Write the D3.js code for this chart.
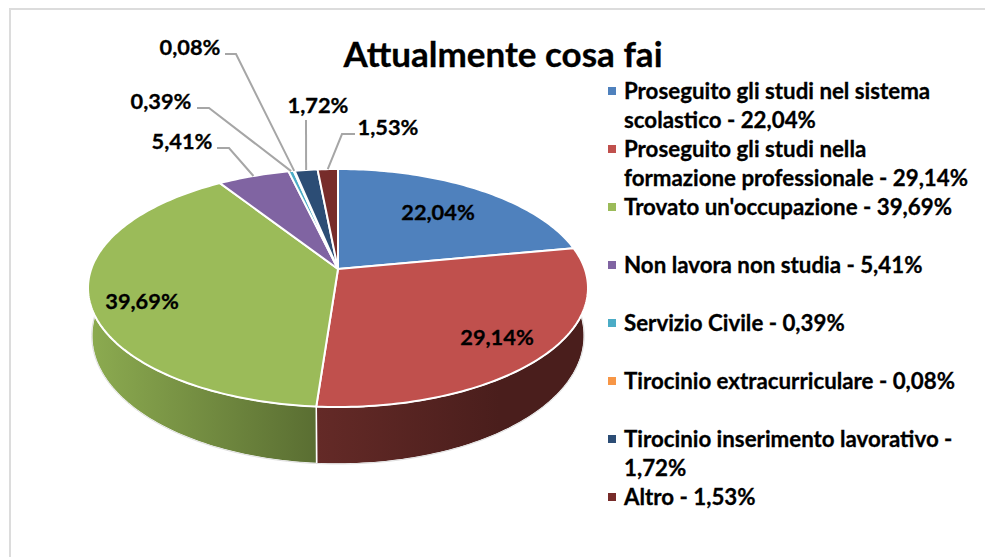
<!DOCTYPE html>
<html>
<head>
<meta charset="utf-8">
<script src="https://cdn.jsdelivr.net/npm/d3@7"></script>
<style>
html, body { margin: 0; padding: 0; background: #fff; overflow: hidden; }
svg { display: block; }
text { font-family: Lato, "Open Sans", sans-serif; font-weight: 700; fill: #000; stroke: #000; stroke-width: 0.3px; }
</style>
</head>
<body>
<div class="chart"></div>
<script>
var svg_width = 985;
var svg_height = 557;

var categories = ["Proseguito gli studi nel sistema scolastico", "Proseguito gli studi nella formazione professionale", "Trovato un'occupazione", "Non lavora non studia", "Servizio Civile", "Tirocinio extracurriculare", "Tirocinio inserimento lavorativo", "Altro"];
var values = [22.04, 29.14, 39.69, 5.41, 0.39, 0.08, 1.72, 1.53];
var value_labels = ["22,04%", "29,14%", "39,69%", "5,41%", "0,39%", "0,08%", "1,72%", "1,53%"];
var colors = ["#4f81bd", "#c0504d", "#9bbb59", "#8064a2", "#4bacc6", "#f79646", "#2c4d75", "#772c2a"];

// legend lines as they wrap in the picture
var legend_lines = [
	["Proseguito gli studi nel sistema", "scolastico - 22,04%"],
	["Proseguito gli studi nella", "formazione professionale - 29,14%"],
	["Trovato un'occupazione - 39,69%"],
	["Non lavora non studia - 5,41%"],
	["Servizio Civile - 0,39%"],
	["Tirocinio extracurriculare - 0,08%"],
	["Tirocinio inserimento lavorativo -", "1,72%"],
	["Altro - 1,53%"]
];
var legend_y = [91, 149, 207, 265, 323, 381, 439, 497];

// Label placement, same order as the values
var label_pos = [[438, 212], [497, 337], [142, 301], [182, 141], [161, 101], [190, 47], [318, 105], [388, 127]];
// leader elbow: [start x, elbow x, y], null for labels inside the pie
var leaders = [null, null, null, [217, 229, 148], [197, 209, 108], [225, 236, 54], [306, 306, 120], [355, 342, 134]];

// pie geometry: a tilted disc, the hub sits above the middle of the ellipse
var cx = 338, hub_y = 269;
var near = 138, far = 100, half_width = 250, wall_shrink = 0.985;
var side_depth = 46, front_extra = 11;
var k = (near - far) / (near + far);
var a = near * (1 - k);
var b = half_width * Math.sqrt(1 - k * k);

function project(t) {
	var u = Math.sin(t), v = -Math.cos(t), w = 1 - k * v;
	return [cx + b * u / w, hub_y + a * v / w];
}
// lower rim: the wall looks taller toward the viewer
function lower(t) {
	var p = project(t);
	var v = Math.max(0, -Math.cos(t));
	return [cx + (p[0] - cx) * wall_shrink, p[1] + side_depth + front_extra * v];
}
function rim(fn, t0, t1) {
	var n = Math.max(2, Math.ceil((t1 - t0) / 0.02));
	return d3.range(n + 1).map(i => fn(t0 + (t1 - t0) * i / n));
}

var line = d3.line();

var svg = d3.select(".chart")
	.append("svg")
	.attr("width", svg_width)
	.attr("height", svg_height);

var defs = svg.append("defs");

// Frame, only the top and left edges fall inside the picture
svg.append("rect")
	.attr("x", 10).attr("y", 9)
	.attr("width", 1000).attr("height", 600)
	.attr("fill", "#fff")
	.attr("stroke", "#dcdcdc")
	.attr("stroke-width", 2);

var arcs = d3.pie().sort(null).value(d => d)(values);

// Wall shading runs left to right for the two visible walls
function wallGradient(id, stops) {
	var g = defs.append("linearGradient").attr("id", id)
		.attr("gradientUnits", "userSpaceOnUse")
		.attr("x1", stops.x1).attr("x2", stops.x2).attr("y1", 0).attr("y2", 0);
	g.append("stop").attr("offset", 0).attr("stop-color", stops.from);
	g.append("stop").attr("offset", 1).attr("stop-color", stops.to);
}
wallGradient("wall1", { x1: 316, x2: 500, from: "#642a27", to: "#4a1e1c" });
wallGradient("wall2", { x1: 90, x2: 316, from: "#8cab50", to: "#5a6e32" });

var walls = svg.append("g");
walls.selectAll("path")
	.data(arcs)
	.enter()
	.append("path")
	.attr("d", d => line(rim(project, d.startAngle, d.endAngle).concat(rim(lower, d.startAngle, d.endAngle).reverse())) + "Z")
	.attr("fill", (d, i) => i == 1 ? "url(#wall1)" : i == 2 ? "url(#wall2)" : d3.color(colors[i]).darker(1.5))
	.attr("stroke", "#fff")
	.attr("stroke-width", 1.5)
	.attr("stroke-linejoin", "round");

// Faint outline under the wall
svg.append("path")
	.attr("d", line(rim(lower, arcs[1].startAngle, arcs[2].endAngle)))
	.attr("fill", "none")
	.attr("stroke", "#dedede")
	.attr("stroke-width", 1);

// Top of the pie
var top_g = svg.append("g");
top_g.selectAll("path")
	.data(arcs)
	.enter()
	.append("path")
	.attr("d", d => line([[cx, hub_y]].concat(rim(project, d.startAngle, d.endAngle))) + "Z")
	.attr("fill", (d, i) => colors[i])
	.attr("stroke", "#fff")
	.attr("stroke-width", 2)
	.attr("stroke-linejoin", "round");

// Leader lines
svg.append("g").selectAll("path")
	.data(arcs.filter((d, i) => leaders[i]))
	.enter()
	.append("path")
	.attr("d", d => {
		var l = leaders[d.index];
		var mid = project((d.startAngle + d.endAngle) / 2);
		return line([[l[0], l[2]], [l[1], l[2]], mid]);
	})
	.attr("fill", "none")
	.attr("stroke", "#a6a6a6")
	.attr("stroke-width", 2);

// Value labels
svg.append("g").selectAll("text")
	.data(value_labels)
	.enter()
	.append("text")
	.attr("x", (d, i) => label_pos[i][0])
	.attr("y", (d, i) => label_pos[i][1])
	.attr("dy", "0.36em")
	.attr("text-anchor", "middle")
	.attr("font-size", 21.8)
	.text(d => d);

// Title
svg.append("text")
	.attr("x", 503).attr("y", 67)
	.attr("text-anchor", "middle")
	.attr("font-size", 35)
	.text("Attualmente cosa fai");

// Legend
var legend = svg.append("g").selectAll("g")
	.data(categories)
	.enter()
	.append("g")
	.attr("transform", (d, i) => `translate(0, ${legend_y[i]})`);

legend.append("rect")
	.attr("x", 608).attr("y", -4)
	.attr("width", 8).attr("height", 8)
	.attr("fill", (d, i) => colors[i]);

legend.selectAll("text")
	.data((d, i) => legend_lines[i])
	.enter()
	.append("text")
	.attr("x", 624)
	.attr("y", (d, i) => i * 29)
	.attr("dy", "0.36em")
	.attr("font-size", 22.3)
	.text(d => d);
</script>
</body>
</html>
